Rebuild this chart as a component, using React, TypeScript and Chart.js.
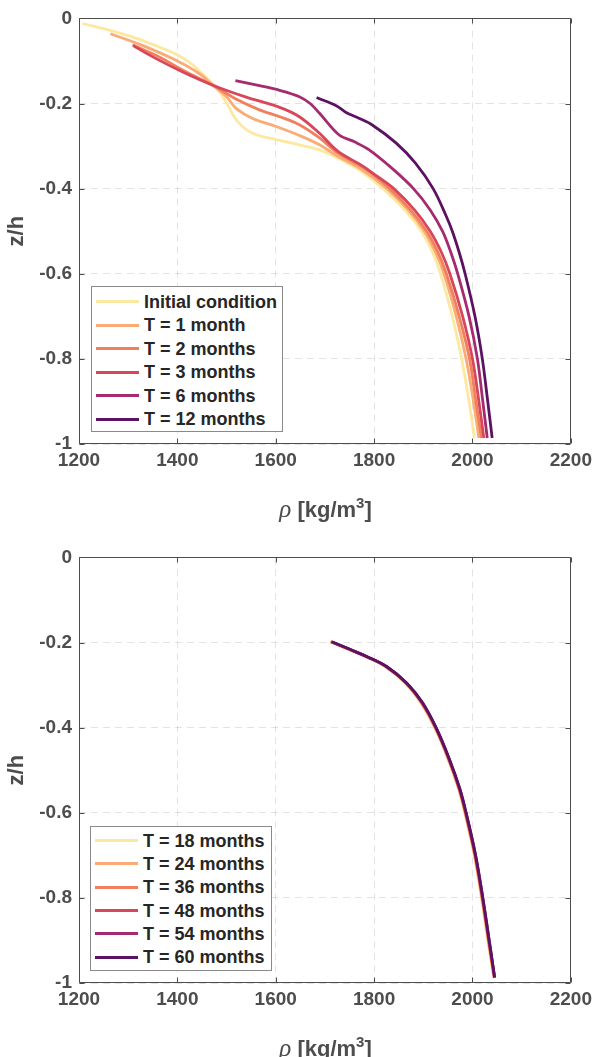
import React, { useEffect, useRef } from "react";
import { Chart, registerables } from "chart.js";

Chart.register(...registerables);

// ---------- axes ----------
const X_TICKS = [1200, 1400, 1600, 1800, 2000, 2200];
const Y_TICKS = [0, -0.2, -0.4, -0.6, -0.8, -1];

// ---------- top panel ----------
const TOP_LABELS = ["Initial condition", "T = 1 month", "T = 2 months", "T = 3 months", "T = 6 months", "T = 12 months"];
const TOP_COLORS = ["#fde8a1", "#f9ac76", "#f17e5d", "#d8465a", "#a52a6f", "#5c1262"];

const icZ = [-0.012, -0.03, -0.048, -0.065, -0.085, -0.108, -0.135, -0.158, -0.18, -0.205, -0.243, -0.27, -0.285, -0.297, -0.309, -0.328, -0.358, -0.4, -0.45, -0.5, -0.55, -0.6, -0.7, -0.8, -0.9, -0.986];
const icRho = [1207, 1269, 1320, 1358, 1399, 1430, 1455, 1476, 1490, 1503, 1523, 1553, 1601, 1648, 1689, 1726, 1772, 1818, 1862, 1896, 1919, 1935, 1959, 1978, 1993, 2004];

const t1Z = [-0.036, -0.064, -0.099, -0.13, -0.157, -0.184, -0.212, -0.235, -0.254, -0.276, -0.297, -0.324, -0.355, -0.4, -0.45, -0.5, -0.55, -0.6, -0.7, -0.8, -0.9, -0.986];
const t1Rho = [1264, 1330, 1398, 1445, 1472, 1500, 1520, 1553, 1601, 1650, 1689, 1726, 1775, 1826, 1869, 1902, 1925, 1942, 1967, 1987, 2002, 2013];

const t2Z = [-0.062, -0.091, -0.126, -0.157, -0.19, -0.215, -0.231, -0.25, -0.281, -0.316, -0.352, -0.4, -0.45, -0.5, -0.55, -0.6, -0.7, -0.8, -0.9, -0.986];
const t2Rho = [1309, 1364, 1418, 1472, 1520, 1567, 1608, 1648, 1689, 1726, 1780, 1832, 1874, 1907, 1930, 1947, 1973, 1994, 2007, 2018];

const t3Z = [-0.064, -0.091, -0.126, -0.157, -0.185, -0.209, -0.231, -0.27, -0.312, -0.347, -0.37, -0.4, -0.45, -0.5, -0.55, -0.6, -0.7, -0.8, -0.9, -0.986];
const t3Rho = [1310, 1351, 1411, 1472, 1540, 1608, 1648, 1689, 1726, 1777, 1805, 1840, 1882, 1914, 1937, 1954, 1980, 2000, 2013, 2023];

const t6Z = [-0.146, -0.158, -0.169, -0.184, -0.2, -0.223, -0.274, -0.29, -0.309, -0.356, -0.4, -0.45, -0.5, -0.55, -0.6, -0.7, -0.8, -0.9, -0.986];
const t6Rho = [1518, 1567, 1608, 1648, 1670, 1689, 1729, 1760, 1790, 1840, 1880, 1914, 1939, 1956, 1970, 1993, 2010, 2021, 2030];

const t12Z = [-0.186, -0.205, -0.221, -0.234, -0.251, -0.293, -0.34, -0.4, -0.463, -0.5, -0.55, -0.6, -0.7, -0.8, -0.9, -0.986];
const t12Rho = [1683, 1723, 1743, 1768, 1797, 1845, 1884, 1920, 1946, 1959, 1973, 1985, 2005, 2020, 2031, 2040];

// ---------- bottom panel ----------
const BOT_LABELS = ["T = 18 months", "T = 24 months", "T = 36 months", "T = 48 months", "T = 54 months", "T = 60 months"];
const BOT_COLORS = ["#fde8a1", "#f9ac76", "#f17e5d", "#d8465a", "#a52a6f", "#5c1262"];

const botZ = [-0.198, -0.216, -0.235, -0.257, -0.295, -0.342, -0.4, -0.474, -0.543, -0.6, -0.698, -0.8, -0.9, -0.987];
const t18Rho = [1710, 1747, 1786, 1823, 1863, 1895, 1923, 1950, 1971, 1984, 2003, 2018, 2031, 2043];
const t24Rho = [1711, 1748, 1787, 1824, 1864, 1896, 1924, 1951, 1972, 1985, 2004, 2019, 2032, 2044];
const t36Rho = [1712, 1749, 1788, 1825, 1865, 1897, 1925, 1952, 1973, 1986, 2005, 2020, 2033, 2044];
const t48Rho = [1713, 1750, 1788, 1825, 1865, 1898, 1925, 1952, 1973, 1986, 2005, 2020, 2033, 2045];
const t54Rho = [1713, 1750, 1789, 1826, 1866, 1898, 1926, 1953, 1974, 1987, 2006, 2021, 2034, 2045];
const t60Rho = [1714, 1751, 1789, 1826, 1866, 1899, 1926, 1953, 1974, 1987, 2006, 2021, 2034, 2045];

const TOP_SERIES = [
  [icRho, icZ],
  [t1Rho, t1Z],
  [t2Rho, t2Z],
  [t3Rho, t3Z],
  [t6Rho, t6Z],
  [t12Rho, t12Z],
];
const BOT_SERIES = [
  [t18Rho, botZ],
  [t24Rho, botZ],
  [t36Rho, botZ],
  [t48Rho, botZ],
  [t54Rho, botZ],
  [t60Rho, botZ],
];

const AXIS_COLOR = "#4d4d4d";
const FONT = "'Liberation Sans', Arial, Helvetica, sans-serif";

const framePlugin = {
  id: "frame",
  afterDraw(chart: any) {
    const { ctx, chartArea: a, scales } = chart;
    ctx.save();
    ctx.strokeStyle = AXIS_COLOR;
    ctx.lineWidth = 1;
    const l = Math.round(a.left) + 0.5;
    const r = Math.round(a.right) - 0.5;
    const t = Math.round(a.top) + 0.5;
    const b = Math.round(a.bottom) - 0.5;
    ctx.beginPath();
    ctx.rect(l, t, r - l, b - t);
    const L = 5;
    scales.x.ticks.forEach((tk: any) => {
      const px = Math.round(scales.x.getPixelForValue(tk.value)) + 0.5;
      ctx.moveTo(px, b);
      ctx.lineTo(px, b - L);
      ctx.moveTo(px, t);
      ctx.lineTo(px, t + L);
    });
    scales.y.ticks.forEach((tk: any) => {
      const py = Math.round(scales.y.getPixelForValue(tk.value)) + 0.5;
      ctx.moveTo(l, py);
      ctx.lineTo(l + L, py);
      ctx.moveTo(r, py);
      ctx.lineTo(r - L, py);
    });
    ctx.stroke();
    ctx.restore();
  },
};

function Panel({ top, height, series, colors, labels }: any) {
  const ref = useRef<HTMLCanvasElement | null>(null);
  useEffect(() => {
    if (!ref.current) return;
    const n = series.length;
    const datasets = series.map((s: any, i: number) => ({
      label: labels[i],
      data: s[0].map((rho: number, j: number) => ({ x: rho, y: s[1][j] })),
      borderColor: colors[i],
      backgroundColor: colors[i],
      borderWidth: 2.8,
      showLine: true,
      pointRadius: 0,
      fill: false,
      tension: 0.35,
      order: n - i,
    }));
    const chart = new Chart(ref.current, {
      type: "scatter",
      data: { datasets },
      options: {
        animation: false,
        responsive: false,
        devicePixelRatio: 1,
        layout: { padding: { left: 0, right: 25, top: 14, bottom: 0 } },
        plugins: { legend: { display: false }, tooltip: { enabled: false } },
        scales: {
          x: {
            type: "linear",
            min: 1200,
            max: 2200,
            afterBuildTicks: (sc: any) => {
              sc.ticks = X_TICKS.map((v) => ({ value: v }));
            },
            afterFit: (sc: any) => {
              sc.height = height - 444;
            },
            grid: { color: "rgba(0,0,0,0.11)", drawTicks: false, lineWidth: 1 },
            border: { display: false, dash: [7, 5] },
            ticks: {
              color: AXIS_COLOR,
              padding: 5,
              font: { family: FONT, size: 19, weight: "bold" },
              maxRotation: 0,
              callback: (v: any) => String(v),
            },
          },
          y: {
            type: "linear",
            min: -1,
            max: 0,
            afterBuildTicks: (sc: any) => {
              sc.ticks = Y_TICKS.map((v) => ({ value: v }));
            },
            afterFit: (sc: any) => {
              sc.width = 79;
            },
            grid: { color: "rgba(0,0,0,0.11)", drawTicks: false, lineWidth: 1 },
            border: { display: false, dash: [7, 5] },
            ticks: {
              color: AXIS_COLOR,
              padding: 7,
              font: { family: FONT, size: 19, weight: "bold" },
              callback: (v: any) => {
                const r = Math.round(Number(v) * 10) / 10;
                return r === 0 ? "0" : String(r);
              },
            },
            title: {
              display: true,
              text: "z/h",
              color: AXIS_COLOR,
              font: { family: FONT, size: 22, weight: "bold" },
              padding: { top: 4, bottom: 0 },
            },
          },
        },
      },
      plugins: [framePlugin],
    } as any);
    return () => chart.destroy();
  }, []);
  return (
    <canvas
      ref={ref}
      width={597}
      height={height}
      style={{ position: "absolute", left: 0, top, width: 597, height }}
    />
  );
}

function Legend({ labels, colors, left, top, width, height, padTop, rowH }: any) {
  return (
    <div
      style={{
        position: "absolute",
        left,
        top,
        width,
        height,
        boxSizing: "border-box",
        border: "1px solid #8a8a8a",
        background: "#fff",
        paddingTop: padTop,
      }}
    >
      {labels.map((l: string, i: number) => (
        <div key={i} style={{ height: rowH, display: "flex", alignItems: "center" }}>
          <span style={{ display: "inline-block", marginLeft: 4, width: 43, height: 3, background: colors[i] }} />
          <span
            style={{
              marginLeft: 5,
              fontFamily: FONT,
              fontWeight: "bold",
              fontSize: 18,
              color: "#262626",
              whiteSpace: "nowrap",
              lineHeight: "20px",
            }}
          >
            {l}
          </span>
        </div>
      ))}
    </div>
  );
}

function XTitle({ top }: any) {
  return (
    <div
      style={{
        position: "absolute",
        left: 79,
        top,
        width: 493,
        textAlign: "center",
        fontFamily: FONT,
        fontWeight: "bold",
        fontSize: 22,
        lineHeight: "26px",
        color: AXIS_COLOR,
        whiteSpace: "nowrap",
      }}
    >
      <span style={{ fontFamily: "'Liberation Serif', 'DejaVu Serif', serif", fontStyle: "italic", fontWeight: "normal", fontSize: 25 }}>ρ</span>
      {" [kg/m"}
      <span style={{ fontSize: 15, position: "relative", top: -9 }}>3</span>
      {"]"}
    </div>
  );
}

export default function App() {
  return (
    <div style={{ position: "absolute", left: 0, top: 0, width: 597, height: 1057, background: "#fff", overflow: "hidden" }}>
      <Panel top={0} height={539} series={TOP_SERIES} colors={TOP_COLORS} labels={TOP_LABELS} />
      <Panel top={539} height={518} series={BOT_SERIES} colors={BOT_COLORS} labels={BOT_LABELS} />
      <Legend labels={TOP_LABELS} colors={TOP_COLORS} left={91} top={286} width={192} height={146} padTop={3} rowH={23.5} />
      <Legend labels={BOT_LABELS} colors={BOT_COLORS} left={90} top={826} width={182} height={145} padTop={2} rowH={23.3} />
      <XTitle top={496} />
      <XTitle top={1035} />
    </div>
  );
}
